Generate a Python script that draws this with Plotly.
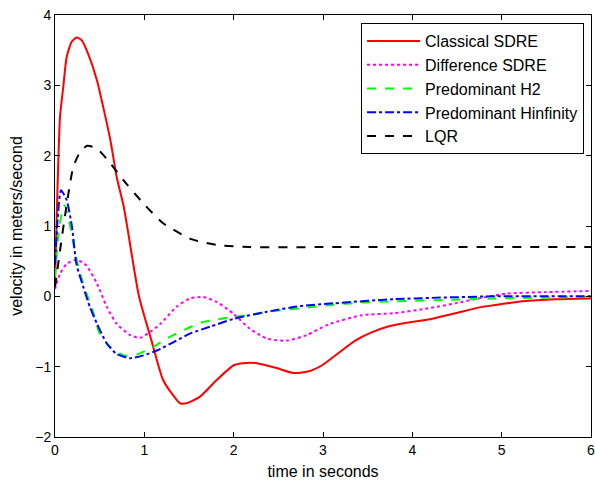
import plotly.graph_objects as go

# ---- data ----
t_classical = [0, 0.019, 0.056, 0.093, 0.13, 0.187, 0.243, 0.30, 0.37, 0.47, 0.54, 0.62, 0.69, 0.77, 0.82,
               0.94, 1.08, 1.21, 1.33, 1.40, 1.47, 1.62, 1.81, 2.0, 2.1, 2.26, 2.48, 2.67, 2.83, 2.99,
               3.17, 3.36, 3.55, 3.73, 3.92, 4.18, 4.48, 4.78, 5.0, 5.23, 5.6, 6.0]
v_classical = [0.2, 1.13, 2.55, 2.98, 3.40, 3.62, 3.68, 3.64, 3.45, 3.07, 2.69, 2.22, 1.70, 1.27, 0.9,
               0.0, -0.63, -1.19, -1.42, -1.52, -1.52, -1.43, -1.19, -0.98, -0.95, -0.95, -1.02, -1.09, -1.07, -0.98,
               -0.81, -0.63, -0.51, -0.43, -0.38, -0.33, -0.24, -0.15, -0.11, -0.07, -0.04, -0.03]

t_difference = [0, 0.056, 0.13, 0.24, 0.35, 0.47, 0.58, 0.69, 0.84, 0.95, 1.06, 1.18, 1.36, 1.51, 1.66,
                1.81, 2.0, 2.18, 2.37, 2.59, 2.82, 3.06, 3.43, 3.8, 4.18, 4.48, 4.78, 5.07, 5.49, 6.0]
v_difference = [0.1, 0.32, 0.46, 0.52, 0.44, 0.18, -0.15, -0.39, -0.55, -0.59, -0.51, -0.39, -0.15, -0.03, -0.01,
                -0.08, -0.25, -0.46, -0.60, -0.63, -0.55, -0.40, -0.27, -0.24, -0.17, -0.10, -0.02, 0.04, 0.06, 0.075]

t_h2 = [0, 0.04, 0.09, 0.11, 0.17, 0.22, 0.28, 0.35, 0.41, 0.50, 0.62, 0.77, 0.91, 1.10, 1.25, 1.44, 1.62,
        1.81, 2.0, 2.18, 2.37, 2.74, 3.11, 3.41, 3.8, 4.4, 4.93, 6.0]
v_h2 = [0.27, 0.89, 1.27, 1.29, 0.99, 0.65, 0.33, 0.05, -0.15, -0.53, -0.72, -0.84, -0.83, -0.72, -0.60, -0.48, -0.38,
        -0.33, -0.29, -0.27, -0.22, -0.17, -0.12, -0.09, -0.07, -0.05, -0.03, -0.01]

t_hinf = [0, 0.03, 0.067, 0.13, 0.19, 0.24, 0.32, 0.39, 0.47, 0.58, 0.69, 0.84, 0.99, 1.14, 1.33, 1.51,
          1.74, 2.0, 2.37, 2.74, 3.11, 3.8, 4.93, 6.0]
v_hinf = [0.45, 1.1, 1.51, 1.37, 0.99, 0.46, 0.12, -0.15, -0.39, -0.67, -0.82, -0.88, -0.84, -0.77, -0.65, -0.53,
          -0.43, -0.32, -0.22, -0.14, -0.10, -0.04, 0.0, 0.0]

t_lqr = [0, 0.056, 0.11, 0.15, 0.205, 0.28, 0.36, 0.47, 0.62, 0.80, 0.99, 1.21, 1.51, 1.62, 1.81, 2.18,
         3, 4, 5, 6]
v_lqr = [0.13, 0.65, 1.13, 1.46, 1.84, 2.05, 2.14, 2.10, 1.89, 1.60, 1.32, 1.04, 0.82, 0.78, 0.73, 0.70,
         0.70, 0.70, 0.70, 0.70]

names = ["Classical SDRE", "Difference SDRE", "Predominant H2", "Predominant Hinfinity", "LQR"]
x_ticks = [0, 1, 2, 3, 4, 5, 6]
y_ticks = [-2, -1, 0, 1, 2, 3, 4]

series = [
    (t_classical, v_classical, "#ff0000", "solid"),
    (t_difference, v_difference, "#ff00ff", "dot"),
    (t_h2, v_h2, "#00ff00", "dash"),
    (t_hinf, v_hinf, "#0000ff", "dashdot"),
    (t_lqr, v_lqr, "#000000", "dash"),
]

fig = go.Figure()
for name, (t, v, c, d) in zip(names, series):
    fig.add_trace(go.Scatter(
        x=t, y=v, name=name, mode="lines", legendgroup=name,
        line=dict(color=c, width=2, dash=d, shape="spline", smoothing=0.6),
    ))

font = "Liberation Sans, Arial, Helvetica, sans-serif"
axis_common = dict(
    showgrid=False, zeroline=False, showline=True, linecolor="black", linewidth=1,
    mirror="ticks", ticks="inside", ticklen=5, tickcolor="black", automargin=False,
    ticklabeloverflow="allow",
    tickfont=dict(family=font, size=14, color="black"),
)

fig.update_layout(
    width=595, height=480,
    margin=dict(l=55, r=4, t=15, b=43),
    paper_bgcolor="white", plot_bgcolor="white",
    font=dict(family=font, size=14, color="black"),
    xaxis=dict(range=[0, 6], tickvals=x_ticks,
               title=dict(text="time in seconds", font=dict(family=font, size=16), standoff=9),
               **axis_common),
    yaxis=dict(range=[-2, 4], tickvals=y_ticks,
               title=dict(text="velocity in meters/second", font=dict(family=font, size=16), standoff=8),
               **axis_common),
    legend=dict(x=0.571, y=0.981, xanchor="left", yanchor="top",
                bordercolor="black", borderwidth=1, bgcolor="white",
                font=dict(family=font, size=16, color="black"),
                tracegroupgap=0, traceorder="grouped", itemwidth=53),
    showlegend=True,
)

fig.write_html("out.html", config={"displayModeBar": False},
               post_script="document.body.style.margin='0';document.body.style.padding='0';")
